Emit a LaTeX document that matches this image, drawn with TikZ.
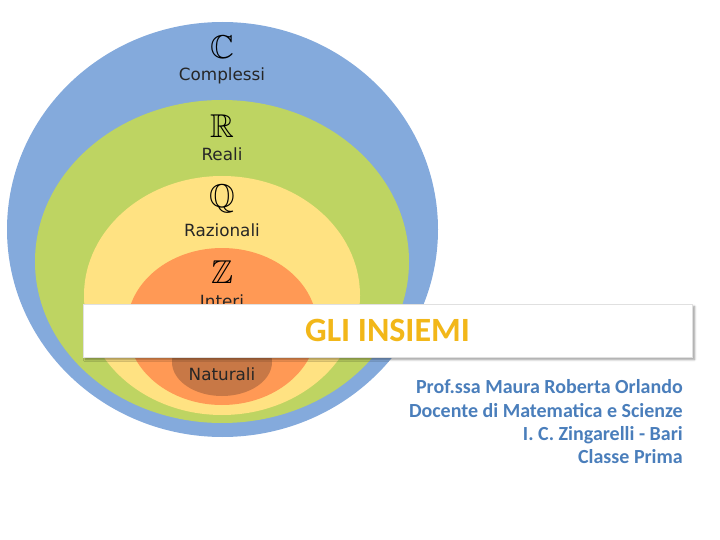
\documentclass[tikz,border=0pt]{standalone}
\usepackage{amssymb}
\usepackage{fontspec}
\setmainfont{DejaVu Sans}
\newfontfamily\slidefont{Carlito}
\usetikzlibrary{shadows.blur}
\definecolor{setblue}{HTML}{84AADC}
\definecolor{setgreen}{HTML}{BED462}
\definecolor{setyellow}{HTML}{FFE282}
\definecolor{setorange}{HTML}{FF9955}
\definecolor{setbrown}{HTML}{C87846}
\definecolor{titlegold}{HTML}{F2B719}
\definecolor{authorblue}{HTML}{4A7EBB}

\begin{document}
\begin{tikzpicture}[x=1pt,y=-1pt,
  setsym/.style={font=\fontsize{33}{33}\selectfont,inner sep=0pt},
  setlbl/.style={font=\fontsize{16.8}{18}\selectfont,text=black!85,inner sep=0pt},
  banner/.style={draw=black!12,fill=white,minimum width=609pt,minimum height=53pt,inner sep=0pt,
    blur shadow={shadow xshift=2.5pt,shadow yshift=-2.5pt,shadow blur steps=6},
    font=\slidefont\bfseries\fontsize{34}{36}\selectfont,text=titlegold},
  author/.style={anchor=base east,inner sep=0pt,text=authorblue,
    font=\slidefont\bfseries\fontsize{20}{22}\selectfont}]
\useasboundingbox (0,0) rectangle (720,540);
% nested sets
\foreach \col/\cx/\cy/\rx/\ry in {setblue/222.5/229.5/215.5/207.5,setgreen/222/261.5/187/161.5,
  setyellow/222/295.5/138/119.5,setorange/222/326.5/95/78.5,setbrown/222/362/50/34}
  \fill[\col] (\cx,\cy) ellipse [x radius=\rx,y radius=\ry];
\foreach \k/\lab/\ys/\yl in {C/Complessi/47/76,R/Reali/126/154,Q/Razionali/199/230,Z/Interi/272/301}{
  \node[setsym] (sym\k) at (222,\ys) {$\mathbb{\k}$};
  \node[setlbl] (lbl\k) at (222,\yl) {\lab};}
\node[setlbl] (lblN) at (222,374) {Naturali};
% title
\node[banner] (title) at (387.5,330.5) {GLI INSIEMI};
\foreach \i/\line/\yb in {1/Prof.ssa Maura Roberta Orlando/393,2/Docente di Matematica e Scienze/417,
  3/I. C. Zingarelli - Bari/440,4/Classe Prima/463}
  \node[author] (auth\i) at (683,\yb) {\line};
\end{tikzpicture}
\end{document}
